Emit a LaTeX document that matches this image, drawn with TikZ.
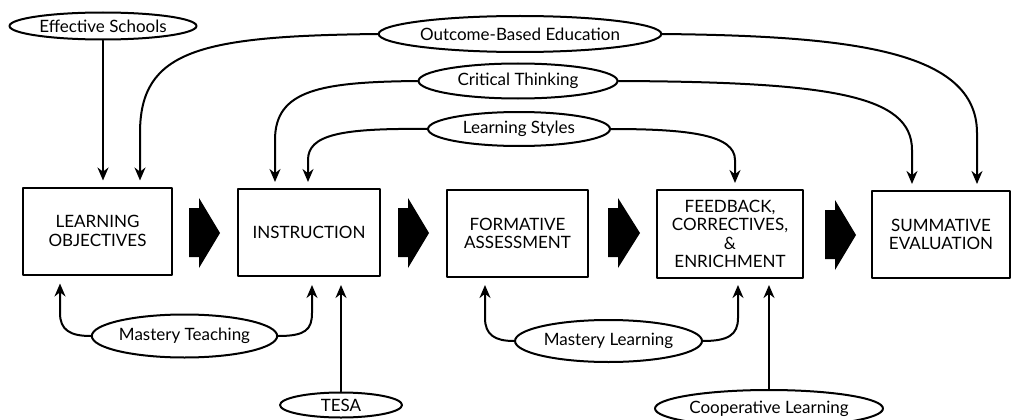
\documentclass[tikz,border=0pt]{standalone}
\usepackage{fontspec}
\setmainfont{Lato}
\usetikzlibrary{arrows.meta,shapes.geometric,calc}

\tikzset{
  stage/.style={draw,line width=2pt,minimum height=87pt,inner sep=0pt,align=center,
    font=\fontsize{17}{18.5}\selectfont},
  topic/.style={draw,ellipse,line width=2pt,inner sep=0pt,font=\fontsize{17}{20}\selectfont},
  link/.style={->,line width=2pt}
}

\begin{document}
\begin{tikzpicture}[line cap=round,line join=round,>={Stealth[length=13pt,width=11pt]},x=1pt,y=-1pt]
\clip (0,0) rectangle (1012,420);
% stages
\node[stage,minimum width=149pt] (lo) at (97.5,231) {LEARNING\\OBJECTIVES};
\node[stage,minimum width=142pt] (ins) at (309,232.5) {INSTRUCTION};
\node[stage,minimum width=141pt] (fa) at (517.5,233.5) {FORMATIVE\\ASSESSMENT};
\node[stage,minimum width=146pt,minimum height=88pt] (fb) at (730,234) {FEEDBACK,\\CORRECTIVES,\\\&\\ENRICHMENT};
\node[stage,minimum width=138pt] (se) at (941,234.5) {SUMMATIVE\\EVALUATION};
% big arrows between stages
\fill (189,208) -- (199,208) -- (199,198) -- (220,233) -- (199,268) -- (199,257) -- (189,257) -- cycle;
\fill (398,208) -- (408,208) -- (408,198) -- (429,233) -- (408,268) -- (408,257) -- (398,257) -- cycle;
\fill (608,208) -- (618,208) -- (618,198) -- (640,233) -- (618,268) -- (618,257) -- (608,257) -- cycle;
\fill (825,210) -- (835,210) -- (835,200) -- (856,235) -- (835,270) -- (835,259) -- (825,259) -- cycle;
% programs
\node[topic,minimum width=187pt,minimum height=27pt] (es) at (103,26) {Effective Schools};
\node[topic,minimum width=250pt,minimum height=36pt] (obe) at (520,34) {Outcome-Based Education};
\node[topic,minimum width=199pt,minimum height=35pt] (ct) at (518,81) {Critical Thinking};
\node[topic,minimum width=182pt,minimum height=34pt] (ls) at (519,129) {Learning Styles};
\node[topic,minimum width=185pt,minimum height=43pt] (mt) at (184.5,336) {Mastery Teaching};
\node[topic,minimum width=122pt,minimum height=25pt] (tesa) at (341,405) {TESA};
\node[topic,minimum width=187pt,minimum height=42pt] (ml) at (608.5,341) {Mastery Learning};
\node[topic,minimum width=228pt,minimum height=37pt] (cl) at (769,408.5) {Cooperative Learning};
% links above
\draw[link] (es.south) -- ($(es.south |- lo.north)+(0,-6)$);
\draw[link] (obe.west) .. controls (200,36) and (140,50) .. (140,133) -- ($(lo.north)+(42.5,-6)$);
\draw[link] (obe.east) .. controls (850,36) and (977,50) .. (977,133) -- ($(se.north)+(36,-6)$);
\draw[link] (ct.west) .. controls (320,82) and (275,90) .. (275,140) -- ($(ins.north)+(-34,-6)$);
\draw[link] (ct.east) .. controls (830,82) and (912,95) .. (912,150) -- ($(se.north)+(-29,-6)$);
\draw[link] (ls.west) .. controls (340,128) and (308,135) .. (308,160) -- ($(ins.north)+(-1,-6)$);
\draw[link] (ls.east) .. controls (690,129) and (735,135) .. (735,160) -- ($(fb.north)+(5,-6)$);
% links below
\draw[link] (mt.west) .. controls (70,336) and (60,330) .. (60,313) -- ($(lo.south)+(-37.5,8)$);
\draw[link] (mt.east) .. controls (305,336) and (312,330) .. (312,313) -- ($(ins.south)+(3,8)$);
\draw[link] (tesa.north) -- ($(tesa.north |- ins.south)+(0,8)$);
\draw[link] (ml.west) .. controls (495,341) and (485,335) .. (485,318) -- ($(fa.south)+(-32.5,7)$);
\draw[link] (ml.east) .. controls (728,341) and (738,335) .. (738,318) -- ($(fb.south)+(8,6)$);
\draw[link] (cl.north) -- ($(cl.north |- fb.south)+(0,6)$);
\end{tikzpicture}
\end{document}
